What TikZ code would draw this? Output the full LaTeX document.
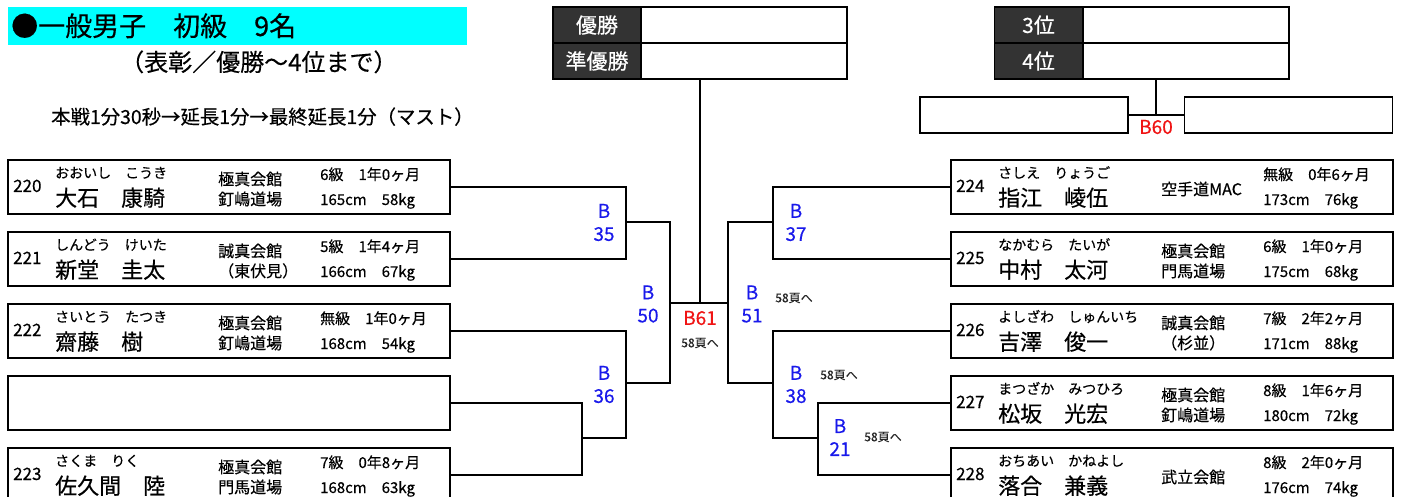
\documentclass[tikz,border=0pt]{standalone}
\usepackage{fontspec}
\setmainfont{Noto Sans CJK JP}[FakeBold=0.4]
\definecolor{bblue}{RGB}{25,25,235}
\definecolor{bred}{RGB}{240,20,20}
\definecolor{darkfill}{RGB}{51,51,51}
\definecolor{cyanbg}{RGB}{0,255,255}
\newcommand\fnum{\fontsize{17}{20}\selectfont}
\newcommand\ffuri{\fontsize{14}{17}\selectfont}
\newcommand\fname{\fontsize{22}{26}\selectfont}
\newcommand\fdojo{\fontsize{16}{20}\selectfont}
\newcommand\frank{\fontsize{15}{18}\selectfont}
\newcommand\flab{\fontsize{19}{23}\selectfont}
\newcommand\fsmall{\fontsize{12}{14}\selectfont}
\tikzset{
  ln/.style={line width=1.8pt},
  pbox/.style={draw, line width=2pt, minimum width=442pt, minimum height=54pt, inner sep=0pt, anchor=north west},
  tb/.style={inner sep=0pt, anchor=base west},
  darkl/.style={draw, line width=1.8pt, fill=darkfill, text=white, minimum width=88pt, minimum height=36pt, inner sep=0pt, font=\fontsize{21}{24}\selectfont},
  whitel/.style={draw, line width=1.8pt, fill=white, minimum width=206pt, minimum height=36pt, inner sep=0pt},
  emptyl/.style={draw, line width=1.8pt, minimum width=208pt, minimum height=36pt, inner sep=0pt},
  blab/.style={text=bblue, font=\flab, align=center, inner sep=0pt},
  rlab/.style={text=bred, font=\flab, inner sep=0pt},
  pg/.style={text=black!85, font=\fsmall, inner sep=0pt}
}
\newcommand\plyr[9]{%
  \node[pbox] (#1) at (#2,#3) {};
  \node[tb, font=\fnum] (#1n) at ([shift={(6,33)}]#1.north west) {#4};
  \node[tb, font=\ffuri] (#1f) at ([shift={(48,19)}]#1.north west) {#5};
  \node[tb, font=\fname] (#1k) at ([shift={(48,47)}]#1.north west) {#6};
  \node[inner sep=0pt, anchor=west, align=left, font=\fdojo] (#1d) at ([shift={(211,30)}]#1.north west) {#7};
  \node[tb, font=\frank] (#1r) at ([shift={(313,21)}]#1.north west) {#8};
  \node[tb, font=\frank] (#1s) at ([shift={(313,46)}]#1.north west) {#9};
}
\begin{document}
\begin{tikzpicture}[x=1pt,y=-1pt]
\useasboundingbox[fill=white] (0,0) rectangle (1402,497);
% title
\fill[cyanbg] (8,7) rectangle (467,45);
\node[tb, font=\fontsize{27}{30}\selectfont] (title) at (11,36) {●一般男子　初級　9名};
\node[tb, font=\fontsize{24}{27}\selectfont] (sub) at (120,71) {（表彰／優勝～4位まで）};
\node[tb, font=\fontsize{19.4}{22}\selectfont] (rule) at (51,124) {本戦1分30秒→延長1分→最終延長1分（マスト）};
% winners
\node[darkl] (w1) at (597,25) {優勝};
\node[whitel] (w1v) at (744,25) {};
\node[darkl] (w2) at (597,61) {準優勝};
\node[whitel] (w2v) at (744,61) {};
\node[darkl] (t3) at (1038.5,25) {3位};
\node[whitel] (t3v) at (1186,25) {};
\node[darkl] (t4) at (1038.5,61) {4位};
\node[whitel] (t4v) at (1186,61) {};
\node[emptyl] (s1) at (1024,115) {};
\node[emptyl] (s2) at (1288.5,115) {};
\coordinate (m60) at (1156,115);
\draw[ln] (s1.east) -- (s2.west);
\draw[ln] (m60) -- (m60 |- t4v.south);
\node[rlab] (b60) at (1156,127) {B60};
% players left
\plyr{p220}{7}{159}{220}{おおいし　こうき}{大石　康騎}{極真会館\\釘嶋道場}{6級　1年0ヶ月}{165cm　58kg}
\plyr{p221}{7}{231}{221}{しんどう　けいた}{新堂　圭太}{誠真会館\\（東伏見）}{5級　1年4ヶ月}{166cm　67kg}
\plyr{p222}{7}{303}{222}{さいとう　たつき}{齋藤　樹}{極真会館\\釘嶋道場}{無級　1年0ヶ月}{168cm　54kg}
\node[pbox] (pE) at (7,375) {};
\plyr{p223}{7}{447}{223}{さくま　りく}{佐久間　陸}{極真会館\\門馬道場}{7級　0年8ヶ月}{168cm　63kg}
% players right
\plyr{p224}{950}{159}{224}{さしえ　りょうご}{指江　崚伍}{空手道MAC}{無級　0年6ヶ月}{173cm　76kg}
\plyr{p225}{950}{231}{225}{なかむら　たいが}{中村　太河}{極真会館\\門馬道場}{6級　1年0ヶ月}{175cm　68kg}
\plyr{p226}{950}{303}{226}{よしざわ　しゅんいち}{吉澤　俊一}{誠真会館\\（杉並）}{7級　2年2ヶ月}{171cm　88kg}
\plyr{p227}{950}{375}{227}{まつざか　みつひろ}{松坂　光宏}{極真会館\\釘嶋道場}{8級　1年6ヶ月}{180cm　72kg}
\plyr{p228}{950}{447}{228}{おちあい　かねよし}{落合　兼義}{武立会館}{8級　2年0ヶ月}{176cm　74kg}
% bracket junctions
\coordinate (m35) at (626,222);
\coordinate (m36) at (626,383);
\coordinate (mx) at (582,438);
\coordinate (m50) at (670,303);
\coordinate (m61) at (700,303);
\coordinate (m51) at (728,303);
\coordinate (m37) at (773,222);
\coordinate (m38) at (773,383);
\coordinate (m21) at (818,438);
% left bracket
\draw[ln] (p220.east) -| (m35) |- (p221.east);
\draw[ln] (p222.east) -| (m36) |- (mx);
\draw[ln] (pE.east) -| (mx) |- (p223.east);
\draw[ln] (m35) -| (m50) |- (m36);
\draw[ln] (m50) -- (m51);
\draw[ln] (m61) -- (m61 |- w2v.south);
% right bracket
\draw[ln] (p224.west) -| (m37) |- (p225.west);
\draw[ln] (p226.west) -| (m38) |- (m21);
\draw[ln] (p227.west) -| (m21) |- (p228.west);
\draw[ln] (m37) -| (m51) |- (m38);
% labels
\node[blab] (l35) at (604,222.5) {B\\35};
\node[blab] (l50) at (648,304) {B\\50};
\node[blab] (l36) at (604,384.5) {B\\36};
\node[blab] (l37) at (796,222.5) {B\\37};
\node[blab] (l51) at (752,304) {B\\51};
\node[blab] (l38) at (796,384.5) {B\\38};
\node[blab] (l21) at (840,437.5) {B\\21};
\node[rlab] (l61) at (700,318) {B61};
\node[pg] (g61) at (700,343) {58頁へ};
\node[pg] (g51) at (794,298) {58頁へ};
\node[pg] (g38) at (839,375) {58頁へ};
\node[pg] (g21) at (883,437) {58頁へ};
\end{tikzpicture}
\end{document}
